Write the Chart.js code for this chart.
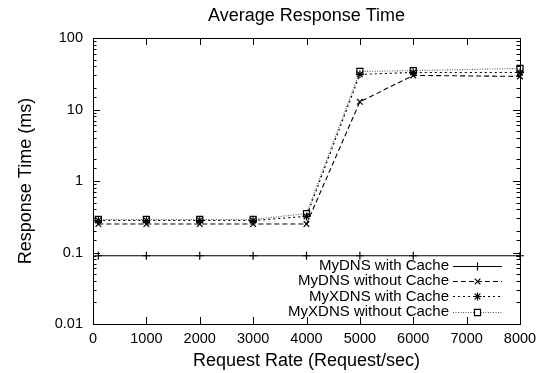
<!DOCTYPE html>
<html>
<head>
<meta charset="utf-8">
<script src="https://cdn.jsdelivr.net/npm/chart.js@4/dist/chart.umd.min.js"></script>
<style>
  html, body { margin: 0; padding: 0; background: #fff; }
  #wrap { width: 546px; height: 373px; }
</style>
</head>
<body>
<div id="wrap"><canvas id="chart" width="546" height="373"></canvas></div>
<script>
// request rates (req/sec) at which each series was measured
const rates = [100, 1000, 2000, 3000, 4000, 5000, 6000, 8000]

// average response time (ms)
const mydnsCache = [0.09, 0.09, 0.09, 0.09, 0.09, 0.09, 0.09, 0.09]
const mydnsNoCache = [0.25, 0.25, 0.25, 0.25, 0.25, 12.8, 30, 29]
const myxdnsCache = [0.28, 0.28, 0.28, 0.28, 0.32, 31, 33, 33]
const myxdnsNoCache = [0.29, 0.29, 0.29, 0.29, 0.35, 34, 35, 37.5]

const seriesNames = ['MyDNS with Cache', 'MyDNS without Cache', 'MyXDNS with Cache', 'MyXDNS without Cache']
const xTicks = [0, 1000, 2000, 3000, 4000, 5000, 6000, 7000, 8000]

const chartTitle = 'Average Response Time'
const xTitle = 'Request Rate (Request/sec)'
const yTitle = 'Response Time (ms)'

const FONT = '"Liberation Sans", Arial, Helvetica, sans-serif'

const points = (ys) => rates.map((x, i) => ({ x: x, y: ys[i] }))

const isDecade = (v) => {
  const e = Math.log10(v)
  return Math.abs(e - Math.round(e)) < 1e-6
}

// gnuplot-ish frame, inward ticks on all sides, title and key inside the plot
const gnuplotLook = {
  id: 'gnuplotLook',
  afterDatasetsDraw(chart) {
    const { ctx, chartArea: a, scales } = chart
    ctx.save()
    ctx.strokeStyle = '#000'
    ctx.lineWidth = 1
    ctx.setLineDash([])

    // frame
    ctx.strokeRect(Math.round(a.left) + 0.5, Math.round(a.top) + 0.5,
      Math.round(a.right - a.left), Math.round(a.bottom - a.top))

    // x ticks (bottom + top mirror)
    ctx.beginPath()
    xTicks.forEach(v => {
      const px = Math.round(scales.x.getPixelForValue(v)) + 0.5
      ctx.moveTo(px, a.bottom); ctx.lineTo(px, a.bottom - 7)
      ctx.moveTo(px, a.top); ctx.lineTo(px, a.top + 7)
    })
    // y ticks, major at decades, minor in between (left + right mirror)
    scales.y.ticks.forEach(t => {
      const py = Math.round(scales.y.getPixelForValue(t.value)) + 0.5
      const len = isDecade(t.value) ? 7 : 3.5
      ctx.moveTo(a.left, py); ctx.lineTo(a.left + len, py)
      ctx.moveTo(a.right, py); ctx.lineTo(a.right - len, py)
    })
    ctx.stroke()

    // title, centred over the plot
    ctx.fillStyle = '#000'
    ctx.font = '18px ' + FONT
    ctx.textAlign = 'center'
    ctx.textBaseline = 'middle'
    ctx.fillText(chartTitle, (a.left + a.right) / 2, 16)

    // key, bottom right inside the plot
    ctx.font = '15px ' + FONT
    ctx.textAlign = 'right'
    chart.data.datasets.forEach((ds, i) => {
      const y = a.bottom - 58 + i * 15.2
      const x1 = a.right - 67
      const x2 = a.right - 18
      ctx.fillStyle = '#000'
      ctx.fillText(ds.label, a.right - 71, y)
      ctx.strokeStyle = ds.borderColor
      ctx.lineWidth = ds.borderWidth
      ctx.setLineDash(ds.borderDash || [])
      ctx.beginPath()
      ctx.moveTo(x1, Math.round(y) + 0.5)
      ctx.lineTo(x2, Math.round(y) + 0.5)
      ctx.stroke()
      ctx.setLineDash([])
      ctx.strokeStyle = '#000'
      ctx.fillStyle = ds.pointBackgroundColor
      ctx.lineWidth = 1.2
      Chart.helpers.drawPoint(ctx, {
        pointStyle: ds.pointStyle,
        radius: ds.pointRadius,
        borderWidth: 1.2,
        rotation: 0
      }, (x1 + x2) / 2, Math.round(y) + 0.5)
    })
    ctx.restore()
  }
}

const mkSet = (label, ys, dash, style, radius, color) => ({
  label: label,
  data: points(ys),
  borderColor: color,
  borderWidth: 1.1,
  borderDash: dash,
  pointStyle: style,
  pointRadius: radius,
  pointBorderColor: '#000',
  pointBackgroundColor: '#fff',
  pointBorderWidth: 1.2,
  tension: 0,
  fill: false,
  clip: false
})

const data = {
  datasets: [
    mkSet(seriesNames[0], mydnsCache, [], 'cross', 4, '#000'),
    mkSet(seriesNames[1], mydnsNoCache, [5, 3], 'crossRot', 4, '#000'),
    mkSet(seriesNames[2], myxdnsCache, [2, 3], 'star', 4, '#000'),
    mkSet(seriesNames[3], myxdnsNoCache, [1, 1.5], 'rect', 4.3, '#555')
  ]
}

const config = {
  type: 'line',
  data: data,
  options: {
    responsive: false,
    animation: false,
    layout: { padding: { top: 38, right: 26, left: 0, bottom: 0 } },
    plugins: {
      legend: { display: false },
      title: { display: false },
      tooltip: { enabled: false }
    },
    scales: {
      x: {
        type: 'linear',
        min: 0,
        max: 8000,
        afterFit: (s) => { s.height = 49 },
        afterBuildTicks: (s) => { s.ticks = xTicks.map(v => ({ value: v })) },
        grid: { display: false, drawTicks: false },
        border: { display: false },
        ticks: {
          autoSkip: false,
          maxRotation: 0,
          padding: 6,
          color: '#000',
          font: { family: FONT, size: 14.5 },
          callback: (v) => String(v)
        },
        title: {
          display: true,
          text: xTitle,
          color: '#000',
          font: { family: FONT, size: 18 },
          padding: { top: 0, bottom: 1 }
        }
      },
      y: {
        type: 'logarithmic',
        min: 0.01,
        max: 100,
        afterFit: (s) => { s.width = 93 },
        grid: { display: false, drawTicks: false },
        border: { display: false },
        ticks: {
          autoSkip: false,
          padding: 10,
          color: '#000',
          font: { family: FONT, size: 14.5 },
          callback: (v) => isDecade(v) ? String(Number(Number(v).toPrecision(1))) : ''
        },
        title: {
          display: true,
          text: yTitle,
          color: '#000',
          font: { family: FONT, size: 18 },
          padding: { top: 15, bottom: 0 }
        }
      }
    }
  },
  plugins: [gnuplotLook]
}

new Chart(document.getElementById('chart'), config)
</script>
</body>
</html>
